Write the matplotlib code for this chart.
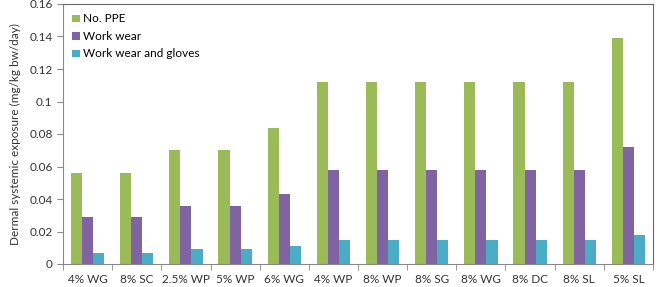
import matplotlib.pyplot as plt
import numpy as np
from matplotlib.ticker import FuncFormatter, FixedLocator

plt.rcParams['font.family'] = ['Lato', 'DejaVu Sans']

# Data
categories = ['4% WG', '8% SC', '2.5% WP', '5% WP', '6% WG', '4% WP',
              '8% WP', '8% SG', '8% WG', '8% DC', '8% SL', '5% SL']
no_ppe = [0.056, 0.056, 0.070, 0.070, 0.084, 0.112, 0.112, 0.112, 0.112, 0.112, 0.112, 0.139]
work_wear = [0.029, 0.029, 0.036, 0.036, 0.043, 0.058, 0.058, 0.058, 0.058, 0.058, 0.058, 0.072]
work_wear_gloves = [0.007, 0.007, 0.009, 0.009, 0.011, 0.015, 0.015, 0.015, 0.015, 0.015, 0.015, 0.018]

fig = plt.figure(figsize=(6.58, 2.87), dpi=100)
ax = fig.add_axes([63/658, 23/287, 590/658, 260/287])

x = np.arange(len(categories))
w = 0.225
ax.bar(x - w, no_ppe, w, color='#9BBB59', label='No. PPE')
ax.bar(x, work_wear, w, color='#8064A2', label='Work wear')
ax.bar(x + w, work_wear_gloves, w, color='#4BACC6', label='Work wear and gloves')

ax.set_xlim(-0.5, len(categories) - 0.5)
ax.set_ylim(0, 0.16)
ax.set_yticks(np.arange(0, 0.161, 0.02))
ax.yaxis.set_major_formatter(FuncFormatter(lambda v, p: '%g' % round(v, 2)))
ax.set_xticks(x)
ax.set_xticklabels(categories)
ax.xaxis.set_minor_locator(FixedLocator(np.arange(-0.5, len(categories), 1.0)))
ax.tick_params(axis='x', which='major', length=0, pad=7, labelsize=8.5, colors='#333333')
ax.tick_params(axis='x', which='minor', length=4, color='#888888', direction='out')
ax.tick_params(axis='y', length=4, color='#888888', labelsize=8.5, colors='#333333')
ax.tick_params(axis='y', colors='#888888', labelcolor='#333333')

for s in ['left', 'bottom']:
    ax.spines[s].set_color('#888888')
for s in ['top', 'right']:
    ax.spines[s].set_color('#666666')

ax.set_ylabel('Dermal systemic exposure (mg/kg bw/day)', fontsize=8.5, color='#333333', labelpad=6)

ax.legend(loc='upper left', frameon=False, fontsize=8.5, handlelength=0.6, handleheight=0.6,
          handletextpad=0.3, labelspacing=0.55, borderaxespad=0.4)

fig.savefig('out.png', dpi=100)
